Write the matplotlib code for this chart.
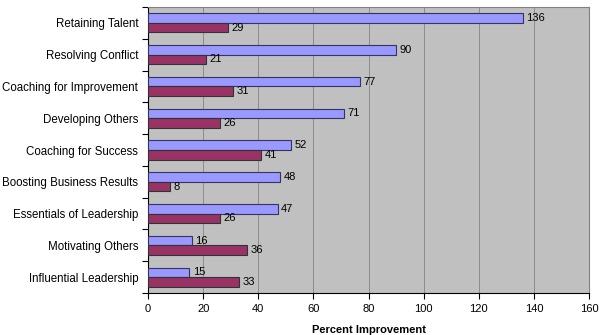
import numpy as np
import matplotlib.pyplot as plt

plt.rcParams['font.family'] = ['Liberation Sans', 'DejaVu Sans']

# Данные
categories = ['Retaining Talent', 'Resolving Conflict', 'Coaching for Improvement',
              'Developing Others', 'Coaching for Success', 'Boosting Business Results',
              'Essentials of Leadership', 'Motivating Others', 'Influential Leadership']
blue_vals = [136, 90, 77, 71, 52, 48, 47, 16, 15]
red_vals = [29, 21, 31, 26, 41, 8, 26, 36, 33]
xticks = [0, 20, 40, 60, 80, 100, 120, 140, 160]

fig = plt.figure(figsize=(6, 3.35), dpi=100)
ax = fig.add_axes([0.2467, 0.1254, 0.735, 0.8536])
ax.set_facecolor('#C0C0C0')

n = len(categories)
y = n - 1 - np.arange(n) + 0.5  # сверху вниз
h = 0.3

b1 = ax.barh(y + h / 2, blue_vals, height=h, color='#9999FF', edgecolor='#333366', linewidth=0.8, zorder=3)
b2 = ax.barh(y - h / 2, red_vals, height=h, color='#993366', edgecolor='#333333', linewidth=0.8, zorder=3)

for rect, v in zip(b1, blue_vals):
    ax.text(v + 1.2, rect.get_y() + rect.get_height() / 2, str(v), va='center', ha='left', fontsize=8)
for rect, v in zip(b2, red_vals):
    ax.text(v + 1.2, rect.get_y() + rect.get_height() / 2, str(v), va='center', ha='left', fontsize=8)

ax.set_xlim(0, 160)
ax.set_ylim(0, n)
ax.set_xticks(xticks)
ax.set_xticklabels([str(t) for t in xticks], fontsize=8)
ax.xaxis.grid(True, color='#8C8C8C', linewidth=0.7, zorder=0)
ax.set_axisbelow(True)

ax.set_yticks(y)
ax.set_yticklabels(categories, fontsize=8.3)
ax.set_yticks(np.arange(n + 1), minor=True)
ax.tick_params(axis='y', which='major', length=0, pad=7)
ax.tick_params(axis='y', which='minor', length=4, width=0.8, direction='out')
ax.tick_params(axis='x', length=4, width=0.8, direction='out', pad=4)

ax.set_xlabel('Percent Improvement', fontsize=8, fontweight='bold', labelpad=8)

for s in ['top', 'right']:
    ax.spines[s].set_color('#808080')
    ax.spines[s].set_linewidth(0.8)
for s in ['left', 'bottom']:
    ax.spines[s].set_color('black')
    ax.spines[s].set_linewidth(0.8)

fig.savefig('out.png', dpi=100)
